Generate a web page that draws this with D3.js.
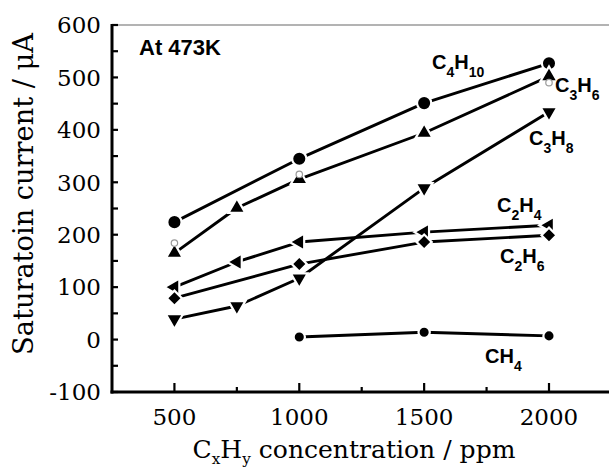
<!DOCTYPE html>
<html><head><meta charset="utf-8">
<script src="https://cdn.jsdelivr.net/npm/d3@7"></script>
<style>
html,body{margin:0;padding:0;background:#fff;}
svg{display:block;}
</style></head>
<body>
<svg id="chart" width="609" height="472"></svg>
<script>
// ---------- data ----------
const concentrations = [500, 750, 1000, 1500, 2000];
const C4H10 = [[500, 224], [1000, 345], [1500, 451], [2000, 527]];
const C3H6  = [[500, 165], [750, 251], [1000, 306], [1500, 394], [2000, 502]];
const C3H8  = [[500, 39], [750, 64], [1000, 117], [1500, 289], [2000, 434]];
const C2H4  = [[500, 100], [750, 148], [1000, 186], [1500, 205], [2000, 218]];
const C2H6  = [[500, 79], [1000, 144], [1500, 186], [2000, 199]];
const CH4   = [[1000, 5], [1500, 14], [2000, 7]];
const greyPoints = [[500, 184], [1000, 315], [2000, 490]];
const xTickValues = [500, 1000, 1500, 2000];
const xMinorTicks = [750, 1250, 1750];
const yTickValues = [-100, 0, 100, 200, 300, 400, 500, 600];
const yMinorTicks = [-50, 50, 150, 250, 350, 450, 550];
const seriesNames = [["C","4","H","10"], ["C","3","H","6"], ["C","3","H","8"], ["C","2","H","4"], ["C","2","H","6"], ["CH","4"]];
const annotation = "At 473K";
const xTitle = ["C","x","H","y"," concentration / ppm"];
const yTitle = "Saturatoin current / μA";

// ---------- layout ----------
const svg = d3.select("#chart");
const W = 609, H = 472;
const x = d3.scaleLinear().domain([250, 2000]).range([112, 549]);
const y = d3.scaleLinear().domain([-100, 600]).range([392, 25]);
const serif = "'DejaVu Serif', serif";
const sans = "'Liberation Sans', Arial, sans-serif";

const series = [
  {data: C4H10, sym: "circle", size: 160, label: seriesNames[0], off: [-117, 6]},
  {data: C3H6,  sym: "up",     size: 125, label: seriesNames[1], off: [6, 16]},
  {data: C3H8,  sym: "down",   size: 125, label: seriesNames[2], off: [-20, 33]},
  {data: C2H4,  sym: "left",   size: 125, label: seriesNames[3], off: [-52, -13]},
  {data: C2H6,  sym: "diamond",size: 115, label: seriesNames[4], off: [-49, 28]},
  {data: CH4,   sym: "circle", size: 100, label: seriesNames[5], off: [-64, 27]}
];

// frame
svg.append("line").attr("x1", 112).attr("x2", W + 2).attr("y1", y(600)).attr("y2", y(600))
  .attr("stroke", "#9a9a9a").attr("stroke-width", 1.5);

// y ticks (inward)
const gy = svg.append("g");
gy.selectAll("line.maj").data(yTickValues.concat(yMinorTicks)).join("line")
  .attr("x1", 112).attr("x2", 118).attr("y1", d => y(d)).attr("y2", d => y(d))
  .attr("stroke", "#000").attr("stroke-width", 2.2);
gy.selectAll("text").data(yTickValues).join("text")
  .attr("x", 101).attr("y", d => y(d)).attr("dy", "0.36em")
  .attr("text-anchor", "end").attr("font-family", serif).attr("font-size", 23)
  .text(d => d);

// x ticks (inward)
const gx = svg.append("g");
gx.selectAll("line.maj").data(xTickValues).join("line")
  .attr("x1", d => x(d)).attr("x2", d => x(d)).attr("y1", 392).attr("y2", 383)
  .attr("stroke", "#000").attr("stroke-width", 2.2);
gx.selectAll("line.min").data(xMinorTicks).join("line")
  .attr("x1", d => x(d)).attr("x2", d => x(d)).attr("y1", 392).attr("y2", 387)
  .attr("stroke", "#000").attr("stroke-width", 2.2);
gx.selectAll("text").data(xTickValues).join("text")
  .attr("x", d => x(d)).attr("y", 425)
  .attr("text-anchor", "middle").attr("font-family", serif).attr("font-size", 23)
  .text(d => d);

// axis lines
svg.append("line").attr("x1", 112).attr("x2", 112).attr("y1", y(600) - 1).attr("y2", 393.5)
  .attr("stroke", "#000").attr("stroke-width", 3);
svg.append("line").attr("x1", 110.5).attr("x2", W + 2).attr("y1", 392).attr("y2", 392)
  .attr("stroke", "#000").attr("stroke-width", 3);

// axis titles
const xt = svg.append("text").attr("x", 354).attr("y", 458).attr("text-anchor", "middle")
  .attr("font-family", serif).attr("font-size", 23);
xt.append("tspan").text(xTitle[0]);
xt.append("tspan").attr("font-size", 14).attr("dy", 6).text(xTitle[1]);
xt.append("tspan").attr("dy", -6).text(xTitle[2]);
xt.append("tspan").attr("font-size", 14).attr("dy", 6).text(xTitle[3]);
xt.append("tspan").attr("dy", -6).text(xTitle[4]);
const xtl = xt.node().getComputedTextLength();
const xs = 323 / xtl;
xt.attr("font-size", 23 * xs);
xt.selectAll("tspan").filter((d, i) => i === 1 || i === 3).attr("font-size", 14 * xs);

const yt = svg.append("text").attr("transform", "translate(33,194) rotate(-90)")
  .attr("text-anchor", "middle").attr("font-family", serif).attr("font-size", 23)
  .text(yTitle);
const ytl = yt.node().getComputedTextLength();
yt.attr("font-size", 23 * 322 / ytl);

// annotation
svg.append("text").attr("x", 139).attr("y", 55).attr("font-family", sans)
  .attr("font-weight", "bold").attr("font-size", 22).text(annotation);

// lines
const line = d3.line().x(d => x(d[0])).y(d => y(d[1]));
series.forEach(s => {
  svg.append("path").attr("d", line(s.data)).attr("fill", "none")
    .attr("stroke", "#000").attr("stroke-width", 2.9).attr("stroke-linejoin", "round");
});

// markers
function symPath(s) {
  if (s.sym === "circle") return d3.symbol(d3.symbolCircle, s.size)();
  if (s.sym === "diamond") return d3.symbol(d3.symbolSquare, s.size)();
  return d3.symbol(d3.symbolTriangle, s.size)();
}
function rot(s) {
  return s.sym === "down" ? 180 : s.sym === "left" ? -90 : s.sym === "diamond" ? 45 : 0;
}
series.forEach(s => {
  svg.append("g").selectAll("path").data(s.data).join("path")
    .attr("d", symPath(s))
    .attr("transform", d => `translate(${x(d[0])},${y(d[1])}) rotate(${rot(s)})`)
    .attr("fill", "#000").attr("stroke", "#fff").attr("stroke-width", 2.2);
});
// faint grey open markers
svg.append("g").selectAll("circle").data(greyPoints).join("circle")
  .attr("cx", d => x(d[0])).attr("cy", d => y(d[1])).attr("r", 3.2)
  .attr("fill", "#fff").attr("stroke", "#999").attr("stroke-width", 1.2);

// series labels
series.forEach(s => {
  const last = s.data[s.data.length - 1];
  const t = svg.append("text")
    .attr("x", x(last[0]) + s.off[0]).attr("y", y(last[1]) + s.off[1])
    .attr("font-family", sans).attr("font-weight", "bold").attr("font-size", 20);
  s.label.forEach((part, i) => {
    const sub = i % 2 === 1;
    t.append("tspan").attr("font-size", sub ? 14 : 20)
      .attr("dy", i === 0 ? 0 : (sub ? 8 : -8)).text(part);
  });
});
</script>
</body></html>
